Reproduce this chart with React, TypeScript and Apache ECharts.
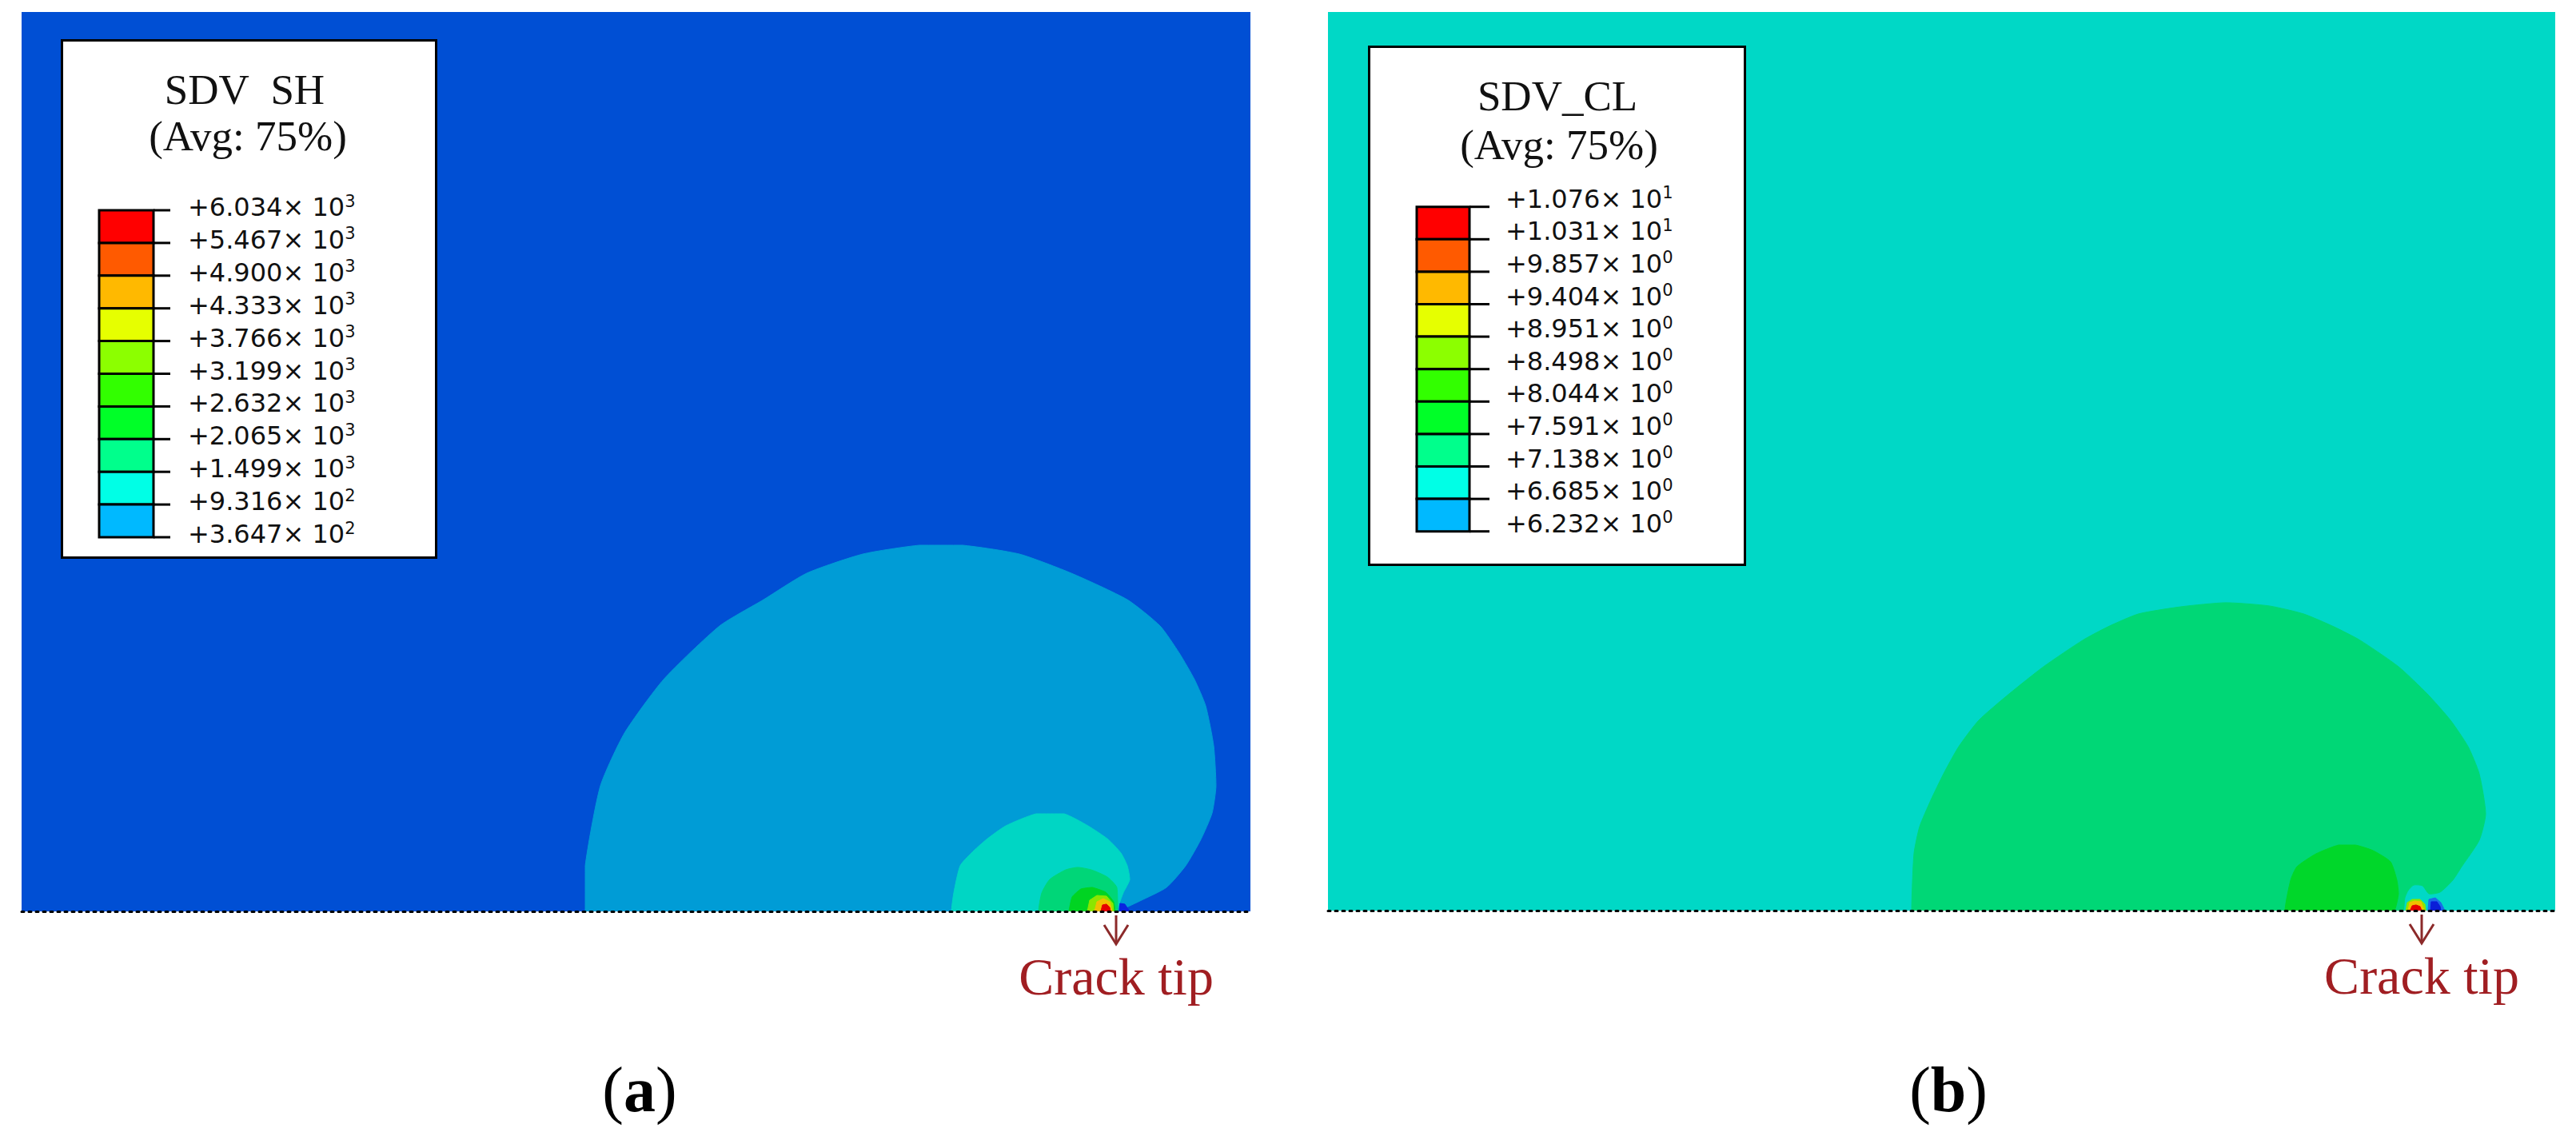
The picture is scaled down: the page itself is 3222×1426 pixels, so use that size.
import React, { useEffect, useRef } from "react";
import * as echarts from "echarts";

// ---------- model extents (crack face along y = 0) ----------
const X_MAX = 100;
const Y_MAX = 73.2;

// ---------- Panel (a): SDV_SH contour bands (x, y in model units) ----------
const shBandLightBlue = [
  [46.6, 0], [45.87, 0], [45.87, 3.71], [47.1, 10.21], [49.06, 14.51], [52.24, 18.87], [56.8, 23.23],
  [60.38, 25.37], [63.89, 27.52], [68.45, 29.08], [73.06, 29.8], [76.58, 29.8], [81.2, 29.08],
  [85.43, 27.52], [89.98, 25.37], [92.65, 23.23], [94.21, 21.02], [95.45, 18.87], [96.36, 16.72],
  [97.01, 13.47], [97.2, 10.21], [96.88, 8.0], [95.97, 5.86], [94.73, 3.71], [93.17, 1.95],
  [91.02, 0.85], [89.65, 0.2], [89.26, 0], [88.6, 0],
];
const shBandTurquoise = [
  [76.2, 0], [75.67, 0], [75.86, 1.5], [76.38, 3.71], [77.29, 4.75], [78.53, 5.86], [80.09, 6.96],
  [82.56, 7.94], [84.84, 7.94], [86.79, 6.96], [88.42, 5.86], [89.46, 4.75], [89.98, 3.71],
  [90.18, 2.6], [89.65, 1.5], [89.33, 0.65], [89.07, 0], [88.6, 0],
];
const shBandGreen = [
  [83.1, 0], [82.76, 0], [83.02, 1.5], [83.67, 2.6], [84.97, 3.38], [85.95, 3.58], [87.05, 3.38],
  [88.35, 2.8], [89.13, 1.95], [89.2, 0], [88.9, 0],
];
const shBandDeepGreen = [
  [85.23, 0], [85.49, 1.17], [86.21, 1.82], [87.12, 1.95], [88.22, 1.56], [88.87, 0.78], [89.0, 0],
];
const shBandLime = [[86.73, 0], [86.92, 0.91], [87.51, 1.3], [88.29, 1.24], [88.81, 0.65], [88.87, 0]];
const shBandYellow = [[87.31, 0], [87.51, 0.78], [88.03, 1.04], [88.55, 0.78], [88.74, 0]];
const shBandRed = [[87.83, 0], [87.96, 0.52], [88.29, 0.59], [88.55, 0.33], [88.61, 0]];
const shBandBlue = [[89.33, 0], [89.39, 0.65], [89.78, 0.59], [90.04, 0.2], [90.17, 0]];

// ---------- Panel (b): SDV_CL contour bands ----------
const clBandGreen = [
  [48.3, 0], [47.56, 0], [47.75, 4.63], [48.21, 6.84], [49.12, 8.99], [50.16, 11.14], [51.4, 13.36],
  [53.03, 15.5], [55.5, 17.65], [58.31, 19.87], [61.5, 22.02], [63.58, 23.13], [66.06, 24.17],
  [69.58, 24.76], [73.16, 25.08], [76.68, 24.82], [79.48, 24.17], [81.95, 23.13], [84.1, 22.02],
  [87.23, 19.87], [89.58, 17.65], [91.47, 15.5], [92.9, 13.36], [93.81, 11.14], [94.33, 7.88],
  [93.81, 5.73], [92.38, 3.58], [91.66, 2.48], [90.62, 1.5], [89.71, 1.37], [89.19, 2.02],
  [88.47, 2.08], [88.01, 1.63], [87.75, 1.04], [87.62, 0], [87.2, 0],
];
const clBandDeepGreen = [
  [78.4, 0], [77.98, 0], [78.44, 2.48], [78.96, 3.58], [80.52, 4.63], [82.35, 5.34], [83.71, 5.34],
  [85.15, 4.89], [86.58, 3.97], [87.1, 2.48], [87.23, 1.37], [86.91, 0], [86.5, 0],
];
const clBandLime = [[87.82, 0], [87.95, 0.65], [88.34, 0.91], [88.99, 0.91], [89.38, 0.52], [89.45, 0]];
const clBandYellow = [[88.01, 0], [88.14, 0.65], [88.53, 0.78], [89.06, 0.72], [89.32, 0]];
const clBandRed = [[88.18, 0], [88.34, 0.39], [88.66, 0.46], [88.99, 0.33], [89.12, 0]];
const clBandBlue = [[89.64, 0], [89.71, 0.91], [90.23, 1.04], [90.68, 0.65], [91.01, 0]];
const clBandDeepBlue = [[89.84, 0], [89.9, 0.72], [90.36, 0.72], [90.62, 0.33], [90.68, 0]];

// crack tip positions (model units)
const shCrackTip = [[89.07, 0]];
const clCrackTip = [[89.12, 0]];

// ---------- legends ----------
const legendColors = [
  "#FF0000", "#FF5A00", "#FFB900", "#E6FF00", "#8CFF00",
  "#32FF00", "#00FF28", "#00FF8C", "#00FFE6", "#00B9FF",
];
const shLabelMantissas = [
  "+6.034", "+5.467", "+4.900", "+4.333", "+3.766", "+3.199",
  "+2.632", "+2.065", "+1.499", "+9.316", "+3.647",
];
const shLabelExponents = ["3", "3", "3", "3", "3", "3", "3", "3", "3", "2", "2"];
const clLabelMantissas = [
  "+1.076", "+1.031", "+9.857", "+9.404", "+8.951", "+8.498",
  "+8.044", "+7.591", "+7.138", "+6.685", "+6.232",
];
const clLabelExponents = ["1", "1", "0", "0", "0", "0", "0", "0", "0", "0", "0"];
const shTitle = "SDV\u2002SH";
const clTitle = "SDV_CL";
const avgText = "(Avg: 75%)";
const crackText = "Crack tip";

const SERIF = '"Liberation Serif", "Times New Roman", serif';
const SANS = '"DejaVu Sans", Verdana, sans-serif';
const TIP_COLOR = "#A01E22";
const ARROW_COLOR = "#8C2A2A";

function regionSeries(points: number[][], color: string, gi: number, smooth: number) {
  return {
    type: "custom",
    xAxisIndex: gi,
    yAxisIndex: gi,
    silent: true,
    clip: true,
    z: 2,
    data: points,
    renderItem: (params: any, api: any) => {
      if (params.dataIndex !== 0) return null;
      const pts = points.map((p) => api.coord(p));
      const shape: any = { points: pts };
      if (smooth > 0) {
        let minX = Infinity, minY = Infinity, maxX = -Infinity, maxY = -Infinity;
        pts.forEach((q: number[]) => {
          minX = Math.min(minX, q[0]);
          minY = Math.min(minY, q[1]);
          maxX = Math.max(maxX, q[0]);
          maxY = Math.max(maxY, q[1]);
        });
        shape.smooth = smooth;
        shape.smoothConstraint = [[minX, minY], [maxX, maxY]];
      }
      return {
        type: "polygon",
        shape,
        style: { fill: color, stroke: color, lineWidth: 1 },
      };
    },
  };
}

function crackSeries(tip: number[][], gi: number) {
  return {
    type: "custom",
    xAxisIndex: gi,
    yAxisIndex: gi,
    silent: true,
    z: 5,
    clip: false,
    data: tip,
    renderItem: (params: any, api: any) => {
      const p = api.coord([api.value(0), api.value(1)]);
      return {
        type: "group",
        children: [
          {
            type: "line",
            shape: { x1: p[0], y1: p[1] + 5, x2: p[0], y2: p[1] + 41 },
            style: { stroke: ARROW_COLOR, lineWidth: 3 },
          },
          {
            type: "polyline",
            shape: { points: [[p[0] - 15, p[1] + 17], [p[0], p[1] + 41], [p[0] + 15, p[1] + 17]] },
            style: { stroke: ARROW_COLOR, lineWidth: 3, fill: null },
          },
          {
            type: "text",
            x: p[0],
            y: p[1] + 81,
            style: {
              text: crackText,
              font: `66px ${SERIF}`,
              fill: TIP_COLOR,
              align: "center",
              verticalAlign: "middle",
              textAlign: "center",
              textVerticalAlign: "middle",
            },
          },
        ],
      };
    },
  };
}

function legendGraphic(cfg: {
  box: number[];
  titleX: number;
  titleY: number;
  subX: number;
  subY: number;
  title: string;
  barX: number;
  barW: number;
  barTop: number;
  step: number;
  tickEnd: number;
  labelX: number;
  labelDy: number;
  mantissas: string[];
  exponents: string[];
}) {
  const els: any[] = [];
  const [bx, by, bw, bh] = cfg.box;
  els.push({
    type: "rect",
    z: 100,
    shape: { x: bx + 1.5, y: by + 1.5, width: bw - 3, height: bh - 3 },
    style: { fill: "#FFFFFF", stroke: "#000000", lineWidth: 3 },
  });
  const txt = (text: string, x: number, y: number, font: string, align: string) => ({
    type: "text",
    z: 101,
    x,
    y,
    style: {
      text,
      font,
      fill: "#111111",
      align,
      verticalAlign: "middle",
      textAlign: align,
      textVerticalAlign: "middle",
    },
  });
  els.push(txt(cfg.title, cfg.titleX, cfg.titleY, `53px ${SERIF}`, "center"));
  els.push(txt(avgText, cfg.subX, cfg.subY, `53px ${SERIF}`, "center"));
  legendColors.forEach((c, i) => {
    els.push({
      type: "rect",
      z: 101,
      shape: { x: cfg.barX, y: cfg.barTop + i * cfg.step, width: cfg.barW, height: cfg.step },
      style: { fill: c, stroke: "#000000", lineWidth: 3 },
    });
  });
  cfg.mantissas.forEach((m, i) => {
    const y = cfg.barTop + i * cfg.step;
    els.push({
      type: "line",
      z: 102,
      shape: { x1: cfg.barX + cfg.barW, y1: y, x2: cfg.tickEnd, y2: y },
      style: { stroke: "#000000", lineWidth: 3 },
    });
    els.push({
      type: "text",
      z: 101,
      x: cfg.labelX,
      y: y + cfg.labelDy,
      style: {
        text: `{m|${m}× 10}{s|${cfg.exponents[i]}}`,
        rich: {
          m: { font: `32px ${SANS}`, fill: "#111111", lineHeight: 36 },
          s: { font: `21px ${SANS}`, fill: "#111111", lineHeight: 22, verticalAlign: "top" },
        },
        fill: "#111111",
        align: "left",
        verticalAlign: "middle",
        textAlign: "left",
        textVerticalAlign: "middle",
      },
    });
  });
  return els;
}

function subLabel(letter: string, x: number, y: number) {
  return {
    type: "text",
    z: 101,
    x,
    y,
    style: {
      text: `{p|(}{b|${letter}}{p|)}`,
      rich: {
        p: { font: `80px ${SERIF}`, fill: "#000000" },
        b: { font: `bold 80px ${SERIF}`, fill: "#000000" },
      },
      fill: "#000000",
      align: "center",
      verticalAlign: "middle",
      textAlign: "center",
      textVerticalAlign: "middle",
    },
  };
}

export default function App() {
  const ref = useRef<HTMLDivElement>(null);
  useEffect(() => {
    if (!ref.current) return;
    const chart = echarts.init(ref.current, null, { renderer: "svg" });
    const axisX = (gi: number) => ({
      type: "value",
      gridIndex: gi,
      min: 0,
      max: X_MAX,
      z: 10,
      axisLine: { show: true, onZero: false, lineStyle: { color: "#000000", width: 3, type: [3, 6] } },
      axisTick: { show: false },
      axisLabel: { show: false },
      splitLine: { show: false },
    });
    const axisY = (gi: number) => ({
      type: "value",
      gridIndex: gi,
      min: 0,
      max: Y_MAX,
      show: false,
      splitLine: { show: false },
    });
    const option: any = {
      animation: false,
      backgroundColor: "#FFFFFF",
      grid: [
        { left: 27, top: 15, width: 1537, height: 1125, show: true, backgroundColor: "#004FD4", borderWidth: 0 },
        { left: 1661, top: 15, width: 1535, height: 1124, show: true, backgroundColor: "#00D8C6", borderWidth: 0 },
      ],
      xAxis: [axisX(0), axisX(1)],
      yAxis: [axisY(0), axisY(1)],
      series: [
        regionSeries(shBandLightBlue, "#009CD6", 0, 0.2),
        regionSeries(shBandTurquoise, "#00D6C4", 0, 0.2),
        regionSeries(shBandGreen, "#00D678", 0, 0.2),
        regionSeries(shBandDeepGreen, "#00D422", 0, 0.15),
        regionSeries(shBandLime, "#8CE600", 0, 0),
        regionSeries(shBandYellow, "#F0C000", 0, 0),
        regionSeries(shBandRed, "#E60000", 0, 0),
        regionSeries(shBandBlue, "#0A24E0", 0, 0),
        crackSeries(shCrackTip, 0),
        regionSeries(clBandGreen, "#00D776", 1, 0.2),
        regionSeries(clBandDeepGreen, "#00D72A", 1, 0.2),
        regionSeries(clBandLime, "#8CE600", 1, 0),
        regionSeries(clBandYellow, "#F0C000", 1, 0),
        regionSeries(clBandRed, "#E60000", 1, 0),
        regionSeries(clBandBlue, "#1A6CE8", 1, 0),
        regionSeries(clBandDeepBlue, "#0A1ED8", 1, 0),
        crackSeries(clCrackTip, 1),
      ],
      graphic: [
        ...legendGraphic({
          box: [76, 49, 471, 650],
          titleX: 306,
          titleY: 112,
          subX: 310,
          subY: 170,
          title: shTitle,
          barX: 124,
          barW: 68,
          barTop: 263,
          step: 40.9,
          tickEnd: 213,
          labelX: 235,
          labelDy: -4,
          mantissas: shLabelMantissas,
          exponents: shLabelExponents,
        }),
        ...legendGraphic({
          box: [1711, 57, 473, 651],
          titleX: 1948,
          titleY: 120,
          subX: 1950,
          subY: 181,
          title: clTitle,
          barX: 1772,
          barW: 66,
          barTop: 258.7,
          step: 40.6,
          tickEnd: 1863,
          labelX: 1883,
          labelDy: -10,
          mantissas: clLabelMantissas,
          exponents: clLabelExponents,
        }),
        subLabel("a", 800, 1363),
        subLabel("b", 2437, 1363),
      ],
    };
    chart.setOption(option);
    return () => chart.dispose();
  }, []);
  return (
    <div
      ref={ref}
      style={{ position: "absolute", left: 0, top: 0, width: 3222, height: 1426, background: "#FFFFFF" }}
    />
  );
}
